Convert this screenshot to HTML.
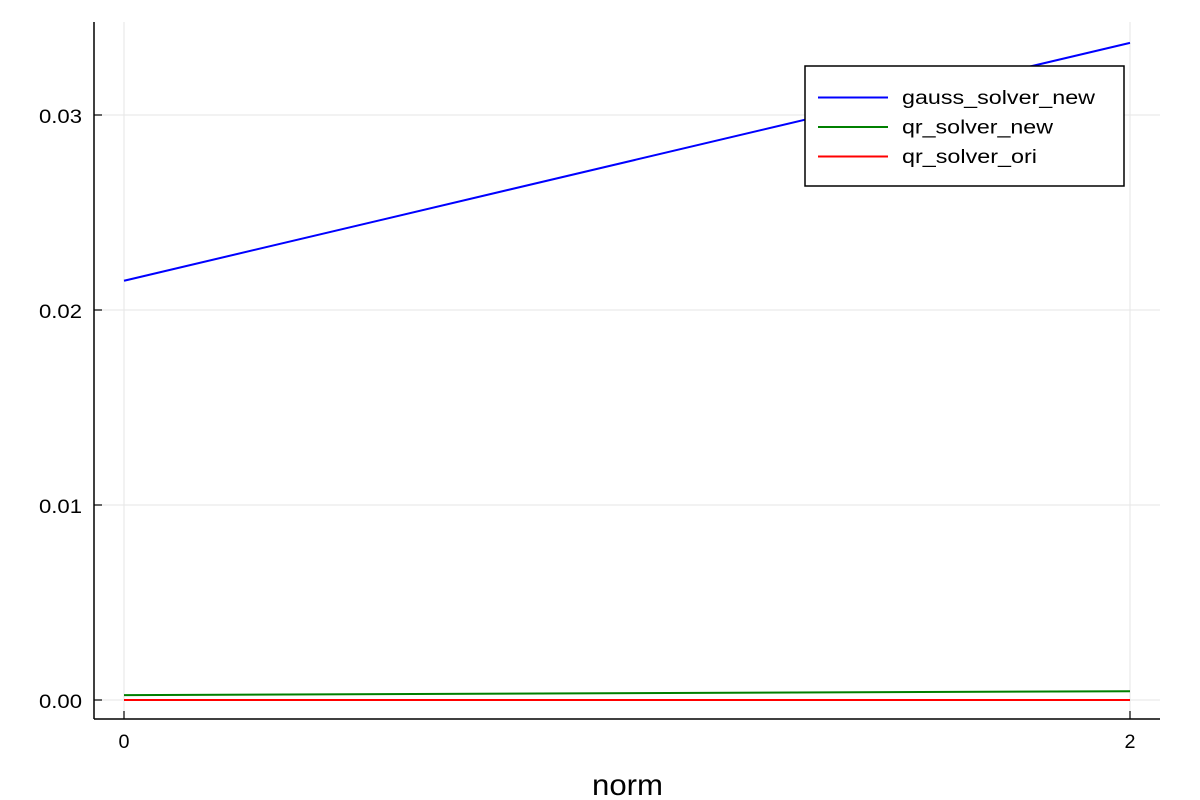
<!DOCTYPE html>
<html><head><meta charset="utf-8"><style>
html,body{margin:0;padding:0;background:#fff;}
svg{display:block;font-family:"Liberation Sans",sans-serif;}
</style></head><body>
<svg id="chart" width="1200" height="800" viewBox="0 0 1200 800" xmlns="http://www.w3.org/2000/svg">
<rect width="1200" height="800" fill="#fff"/>
<g id="grid"></g>
<g id="series"></g>
<line x1="94" y1="22" x2="94" y2="719" stroke="#000" stroke-width="1.5"/>
<line x1="94" y1="719" x2="1160" y2="719" stroke="#000" stroke-width="1.5"/>
<g id="ticks"></g>
<text x="592" y="795" font-size="30" textLength="71" lengthAdjust="spacingAndGlyphs">norm</text>
<g>
<rect x="805" y="66" width="319" height="120" fill="#fff" stroke="#000" stroke-width="1.5"/>
<g id="legend-entries"></g>
</g>
</svg>
<script>
const xValues = [0, 2];
const seriesNames = ["gauss_solver_new", "qr_solver_new", "qr_solver_ori"];
const gaussValues = [0.0215, 0.0337];
const qrNewValues = [0.00025, 0.00045];
const qrOriValues = [0.0, 0.0];
const seriesColors = ["#0000ff", "#008000", "#ff0000"];
const xTicks = [0, 2];
const xTickLabels = ["0", "2"];
const yTicks = [0, 0.01, 0.02, 0.03];
const yTickLabels = ["0.00", "0.01", "0.02", "0.03"];

const NS = "http://www.w3.org/2000/svg";
const xs = v => 124 + (v - 0) * (1130 - 124) / 2;
const ys = v => 700 - v * 19500;
function mk(tag, attrs, parent) {
  const e = document.createElementNS(NS, tag);
  for (const k in attrs) e.setAttribute(k, attrs[k]);
  parent.appendChild(e);
  return e;
}
const grid = document.getElementById('grid');
const ticks = document.getElementById('ticks');
xTicks.forEach((t, i) => {
  const g = mk('line', {x1: xs(t), x2: xs(t), y1: 22, y2: 719, stroke: '#e6e6e6', 'stroke-width': 1}, grid);
  
  
  const tk = mk('line', {x1: xs(t), x2: xs(t), y1: 719, y2: 711, stroke: '#000', 'stroke-width': 1.2}, ticks);
  
  
  const tx = mk('text', {x: xs(t) - 5.5, y: 748, 'font-size': 19, textLength: 11, lengthAdjust: 'spacingAndGlyphs'}, ticks);
  tx.textContent = xTickLabels[i];
  
  
});
yTicks.forEach((t, i) => {
  const g = mk('line', {x1: 94, x2: 1160, y1: ys(t), y2: ys(t), stroke: '#e6e6e6', 'stroke-width': 1}, grid);
  
  
  const tk = mk('line', {x1: 94, x2: 102, y1: ys(t), y2: ys(t), stroke: '#000', 'stroke-width': 1.2}, ticks);
  
  
  const tx = mk('text', {x: 39, y: ys(t) + 8, 'font-size': 19, textLength: 43, lengthAdjust: 'spacingAndGlyphs'}, ticks);
  tx.textContent = yTickLabels[i];
  
  
});
const seriesG = document.getElementById('series');
const allSeries = [gaussValues, qrNewValues, qrOriValues];
allSeries.forEach((vals, si) => {
  const d = vals.map((v, i) => (i ? 'L' : 'M') + xs(xValues[i]) + ',' + ys(v)).join(' ');
  const p = mk('path', {d: d, fill: 'none', stroke: seriesColors[si], 'stroke-width': 2}, seriesG);
  
  
});
const legendWidths = [193, 151, 135];
const leg = document.getElementById('legend-entries');
seriesNames.forEach((n, i) => {
  const y = 97.5 + i * 29.5;
  const l = mk('line', {x1: 818, x2: 888, y1: y, y2: y, stroke: seriesColors[i], 'stroke-width': 2}, leg);
  
  
  const t = mk('text', {x: 902, y: y + 6.5, 'font-size': 19, textLength: legendWidths[i], lengthAdjust: 'spacingAndGlyphs'}, leg);
  t.textContent = n;
  
  
});
</script>
</body></html>
